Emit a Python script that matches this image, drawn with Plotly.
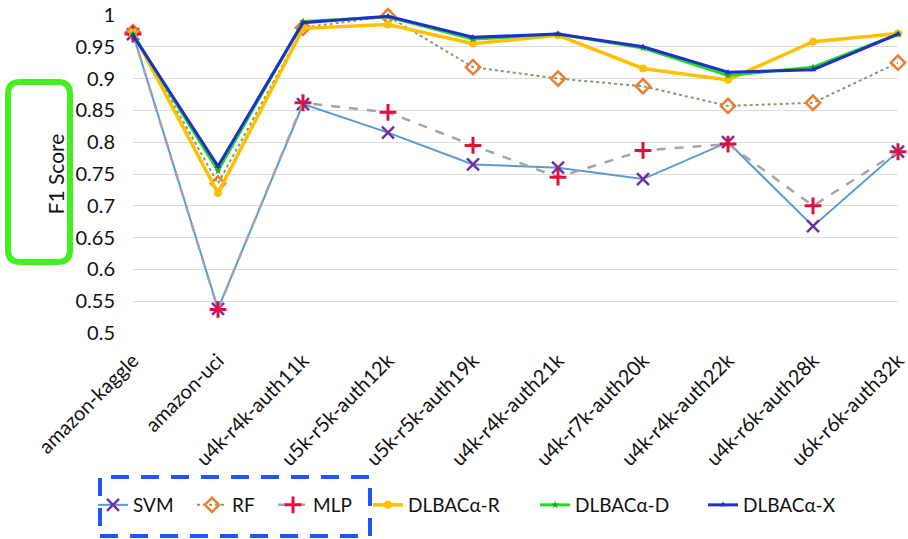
import plotly.graph_objects as go

categories = ["amazon-kaggle", "amazon-uci", "u4k-r4k-auth11k", "u5k-r5k-auth12k",
              "u5k-r5k-auth19k", "u4k-r4k-auth21k", "u4k-r7k-auth20k",
              "u4k-r4k-auth22k", "u4k-r6k-auth28k", "u6k-r6k-auth32k"]
y_ticks = [0.5, 0.55, 0.6, 0.65, 0.7, 0.75, 0.8, 0.85, 0.9, 0.95, 1.0]
y_tick_labels = ["0.5", "0.55", "0.6", "0.65", "0.7", "0.75", "0.8", "0.85", "0.9", "0.95", "1"]

svm = [0.970, 0.538, 0.860, 0.815, 0.765, 0.760, 0.742, 0.800, 0.668, 0.785]
rf = [0.973, 0.735, 0.980, 0.998, 0.918, 0.900, 0.888, 0.857, 0.862, 0.925]
mlp = [0.970, 0.537, 0.862, 0.847, 0.795, 0.745, 0.787, 0.797, 0.700, 0.785]
dlbac_r = [0.972, 0.720, 0.979, 0.985, 0.955, 0.968, 0.916, 0.898, 0.958, 0.971]
dlbac_d = [0.970, 0.755, 0.990, 0.997, 0.962, 0.970, 0.948, 0.905, 0.918, 0.970]
dlbac_x = [0.968, 0.762, 0.988, 0.998, 0.965, 0.970, 0.950, 0.910, 0.914, 0.970]

x = list(range(len(categories)))
fig = go.Figure()

W, H = 908, 539
PL, PR, PT, PB = 133, 898, 15, 333
pw, ph = PR - PL, PB - PT

def px(v):
    return (v - PL) / pw

def py(v):
    return (PB - v) / ph

legend_text_x = [135, 234, 315, 410, 577, 745]
legend_keys = ["legend", "legend2", "legend3", "legend4", "legend5", "legend6"]

def add(i, name, y, color, width, dash, symbol, msize, mcolor, mline=0):
    fig.add_trace(go.Scatter(
        x=x, y=y, name=name, mode="lines+markers", cliponaxis=False,
        legend=legend_keys[i],
        line=dict(color=color, width=width, dash=dash),
        marker=dict(symbol=symbol, size=msize, color=mcolor,
                    line=dict(color=mcolor, width=mline)),
    ))

add(0, "SVM", svm, "#5b9bd5", 2, "solid", "x-thin", 12, "#7030a0", 2.5)
add(1, "RF", rf, "#7f9f6a", 2, "dot", "diamond-open", 11, "#ed7d31", 2.5)
add(2, "MLP", mlp, "#a5a5a5", 2.5, "dash", "cross-thin", 12, "#e0103a", 3)
add(3, "DLBACα-R", dlbac_r, "#ffc000", 3.5, "solid", "circle", 8, "#ffc000")
add(4, "DLBACα-D", dlbac_d, "#22dd22", 3, "solid", "star", 6, "#22aa22")
add(5, "DLBACα-X", dlbac_x, "#1f2fc8", 3, "solid", "triangle-up", 6, "#1f2fc8")

# green rounded rectangle around the y-axis title
x0, x1, y0, y1 = px(8), px(70), py(262), py(82)
rx, ry = 12 / pw, 12 / ph
path = (f"M {x0+rx},{y0} L {x1-rx},{y0} Q {x1},{y0} {x1},{y0+ry} "
        f"L {x1},{y1-ry} Q {x1},{y1} {x1-rx},{y1} L {x0+rx},{y1} "
        f"Q {x0},{y1} {x0},{y1-ry} L {x0},{y0+ry} Q {x0},{y0} {x0+rx},{y0} Z")
fig.add_shape(type="path", path=path, xref="paper", yref="paper",
              line=dict(color="#44ee22", width=6))
# blue dashed rectangle around the first legend entries
fig.add_shape(type="rect", xref="paper", yref="paper",
              x0=px(100), x1=px(370), y0=py(536), y1=py(477),
              line=dict(color="#1f55ff", width=4, dash="18px,12px"))

legends = {}
for key, tx in zip(legend_keys, legend_text_x):
    legends[key] = dict(orientation="h", x=px(tx - 42), y=py(505),
                        xanchor="left", yanchor="middle",
                        font=dict(size=19), itemwidth=30,
                        bgcolor="rgba(0,0,0,0)")

fig.update_layout(
    width=W, height=H,
    margin=dict(l=PL, r=W - PR, t=PT, b=H - PB, autoexpand=False),
    paper_bgcolor="white", plot_bgcolor="white",
    font=dict(family="Lato", size=19, color="#111111"),
    showlegend=True,
    xaxis=dict(range=[0, 9], tickmode="array", tickvals=x, ticktext=categories,
               tickangle=-45, showgrid=False, zeroline=False, showline=False,
               ticks="", tickfont=dict(size=20), ticklabelstandoff=11,
               ticklabeloverflow="allow", automargin=False),
    yaxis=dict(range=[0.5, 1.0], tickmode="array", tickvals=y_ticks,
               ticktext=y_tick_labels, showgrid=True,
               gridcolor="#dcdcdc", gridwidth=1, zeroline=False, showline=False,
               ticks="", tickfont=dict(size=20), ticklabelstandoff=17,
               ticklabeloverflow="allow", automargin=False,
               title=dict(text="F1 Score", font=dict(size=21), standoff=5)),
    **legends,
)

# remove the default page margin so the figure fills the 908x539 window exactly
fig.write_html("out.html", config={"displayModeBar": False},
               post_script="document.body.style.margin='0';")
